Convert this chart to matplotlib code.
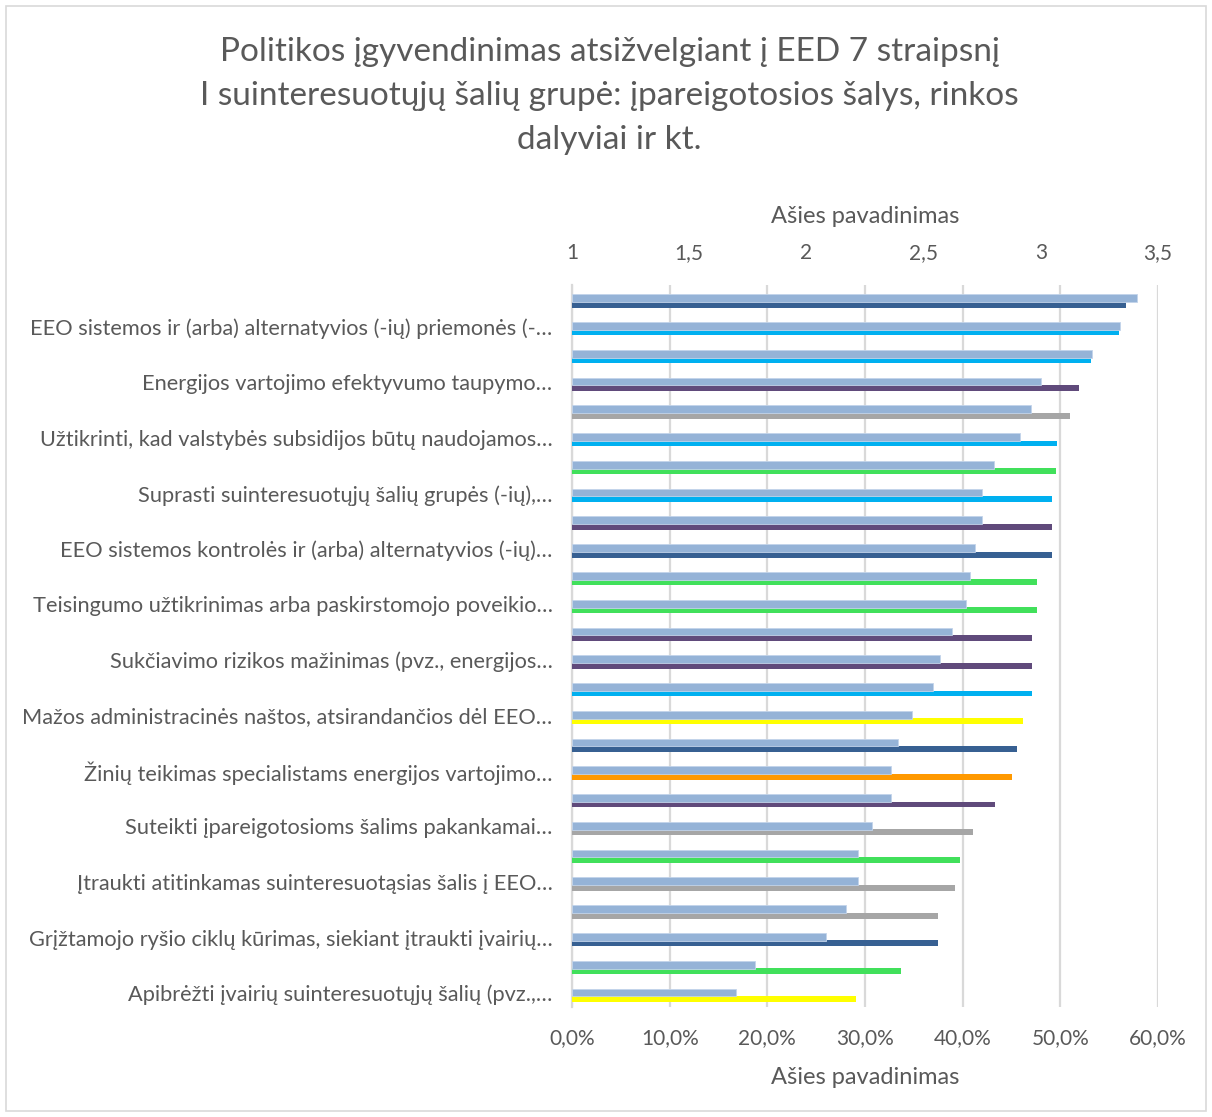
import matplotlib.pyplot as plt
import numpy as np
from matplotlib.ticker import FuncFormatter
from matplotlib.patches import Rectangle

plt.rcParams['font.family'] = ['Lato', 'DejaVu Sans']

# Chart title
title = ('Politikos įgyvendinimas atsižvelgiant į EED 7 straipsnį\n'
         'I suinteresuotųjų šalių grupė: įpareigotosios šalys, rinkos\n'
         'dalyviai ir kt.')

# Visible category labels (every second row, from the top)
shown_labels = [
    'EEO sistemos ir (arba) alternatyvios (-ių) priemonės (-…',
    'Energijos vartojimo efektyvumo taupymo…',
    'Užtikrinti, kad valstybės subsidijos būtų naudojamos…',
    'Suprasti suinteresuotųjų šalių grupės (-ių),…',
    'EEO sistemos kontrolės ir (arba) alternatyvios (-ių)…',
    'Teisingumo užtikrinimas arba paskirstomojo poveikio…',
    'Sukčiavimo rizikos mažinimas (pvz., energijos…',
    'Mažos administracinės naštos, atsirandančios dėl EEO…',
    'Žinių teikimas specialistams energijos vartojimo…',
    'Suteikti įpareigotosioms šalims pakankamai…',
    'Įtraukti atitinkamas suinteresuotąsias šalis į EEO…',
    'Grįžtamojo ryšio ciklų kūrimas, siekiant įtraukti įvairių…',
    'Apibrėžti įvairių suinteresuotųjų šalių (pvz.,…',
]

# Average score (top axis, 1-3.5), top to bottom
scores = [3.41, 3.34, 3.22, 3.00, 2.96, 2.91, 2.80, 2.75, 2.75, 2.72, 2.70, 2.68, 2.62,
          2.57, 2.54, 2.45, 2.39, 2.36, 2.36, 2.28, 2.22, 2.22, 2.17, 2.085, 1.78, 1.70]

# Share in % (bottom axis), top to bottom
shares = [56.7, 56.0, 53.1, 51.9, 51.0, 49.7, 49.6, 49.1, 49.1, 49.1, 47.6, 47.6, 47.1,
          47.1, 47.1, 46.2, 45.6, 45.1, 43.3, 41.1, 39.7, 39.2, 37.5, 37.5, 33.7, 29.1]

share_colors = ['#376092', '#00b0f0', '#00b0f0', '#604a7b', '#a6a6a6', '#00b0f0', '#41e05b',
                '#00b0f0', '#604a7b', '#376092', '#41e05b', '#41e05b', '#604a7b', '#604a7b',
                '#00b0f0', '#ffff00', '#376092', '#ff9900', '#604a7b', '#a6a6a6', '#41e05b',
                '#a6a6a6', '#a6a6a6', '#376092', '#41e05b', '#ffff00']

txt = '#595959'
grid_c = '#d9d9d9'
n = len(scores)
y = np.arange(n)

fig = plt.figure(figsize=(12.12, 11.17), dpi=100)
fig.patches.append(Rectangle((6 / 1212, 6 / 1117), 1200 / 1212, 1105 / 1117,
                             transform=fig.transFigure, fill=False,
                             edgecolor=grid_c, linewidth=1.2))

ax = fig.add_axes([572 / 1212, 1 - 1007 / 1117, 586 / 1212, 722 / 1117])
ax2 = ax.twiny()

# percent series on bottom axis
ax.barh(y + 0.21, np.array(shares) / 100, height=0.21, color=share_colors, zorder=3)
# score series on top axis
ax2.barh(y - 0.025, np.array(scores) - 1, left=1, height=0.28, color='#95b3d7',
         edgecolor='#c3d4ea', linewidth=0.6, zorder=3)

ax.set_xlim(0, 0.6)
ax2.set_xlim(1, 3.5)
ax.set_ylim(n - 0.5, -0.5)

ax.set_xticks(np.arange(0, 0.61, 0.1))
ax.xaxis.set_major_formatter(FuncFormatter(lambda v, p: f'{v * 100:.1f}%'.replace('.', ',')))
ax2.set_xticks(np.arange(1, 3.51, 0.5))
ax2.xaxis.set_major_formatter(FuncFormatter(
    lambda v, p: (f'{v:g}').replace('.', ',')))

ticks = y[1::2]
ax.set_yticks(ticks)
ax.set_yticklabels(shown_labels)

ax.grid(axis='x', color=grid_c, linewidth=1.6, zorder=0)
ax.set_axisbelow(True)

for a in (ax, ax2):
    for s in a.spines.values():
        s.set_visible(False)
ax.spines['left'].set_visible(True)
ax.spines['left'].set_color(grid_c)
ax.spines['left'].set_linewidth(1.6)

ax.tick_params(axis='x', length=0, pad=15, labelsize=15, labelcolor=txt)
ax.tick_params(axis='y', length=0, pad=14, labelsize=15.7, labelcolor=txt)
ax2.tick_params(axis='x', length=0, pad=16, labelsize=15, labelcolor=txt)

ax.set_xlabel('Ašies pavadinimas', fontsize=17, color=txt, labelpad=14)
ax2.set_xlabel('Ašies pavadinimas', fontsize=17, color=txt, labelpad=14)

fig.text(0.503, 1 - 96 / 1117, title, ha='center', va='center', fontsize=24,
         color=txt, linespacing=1.6)

fig.savefig('out.png', dpi=100)
